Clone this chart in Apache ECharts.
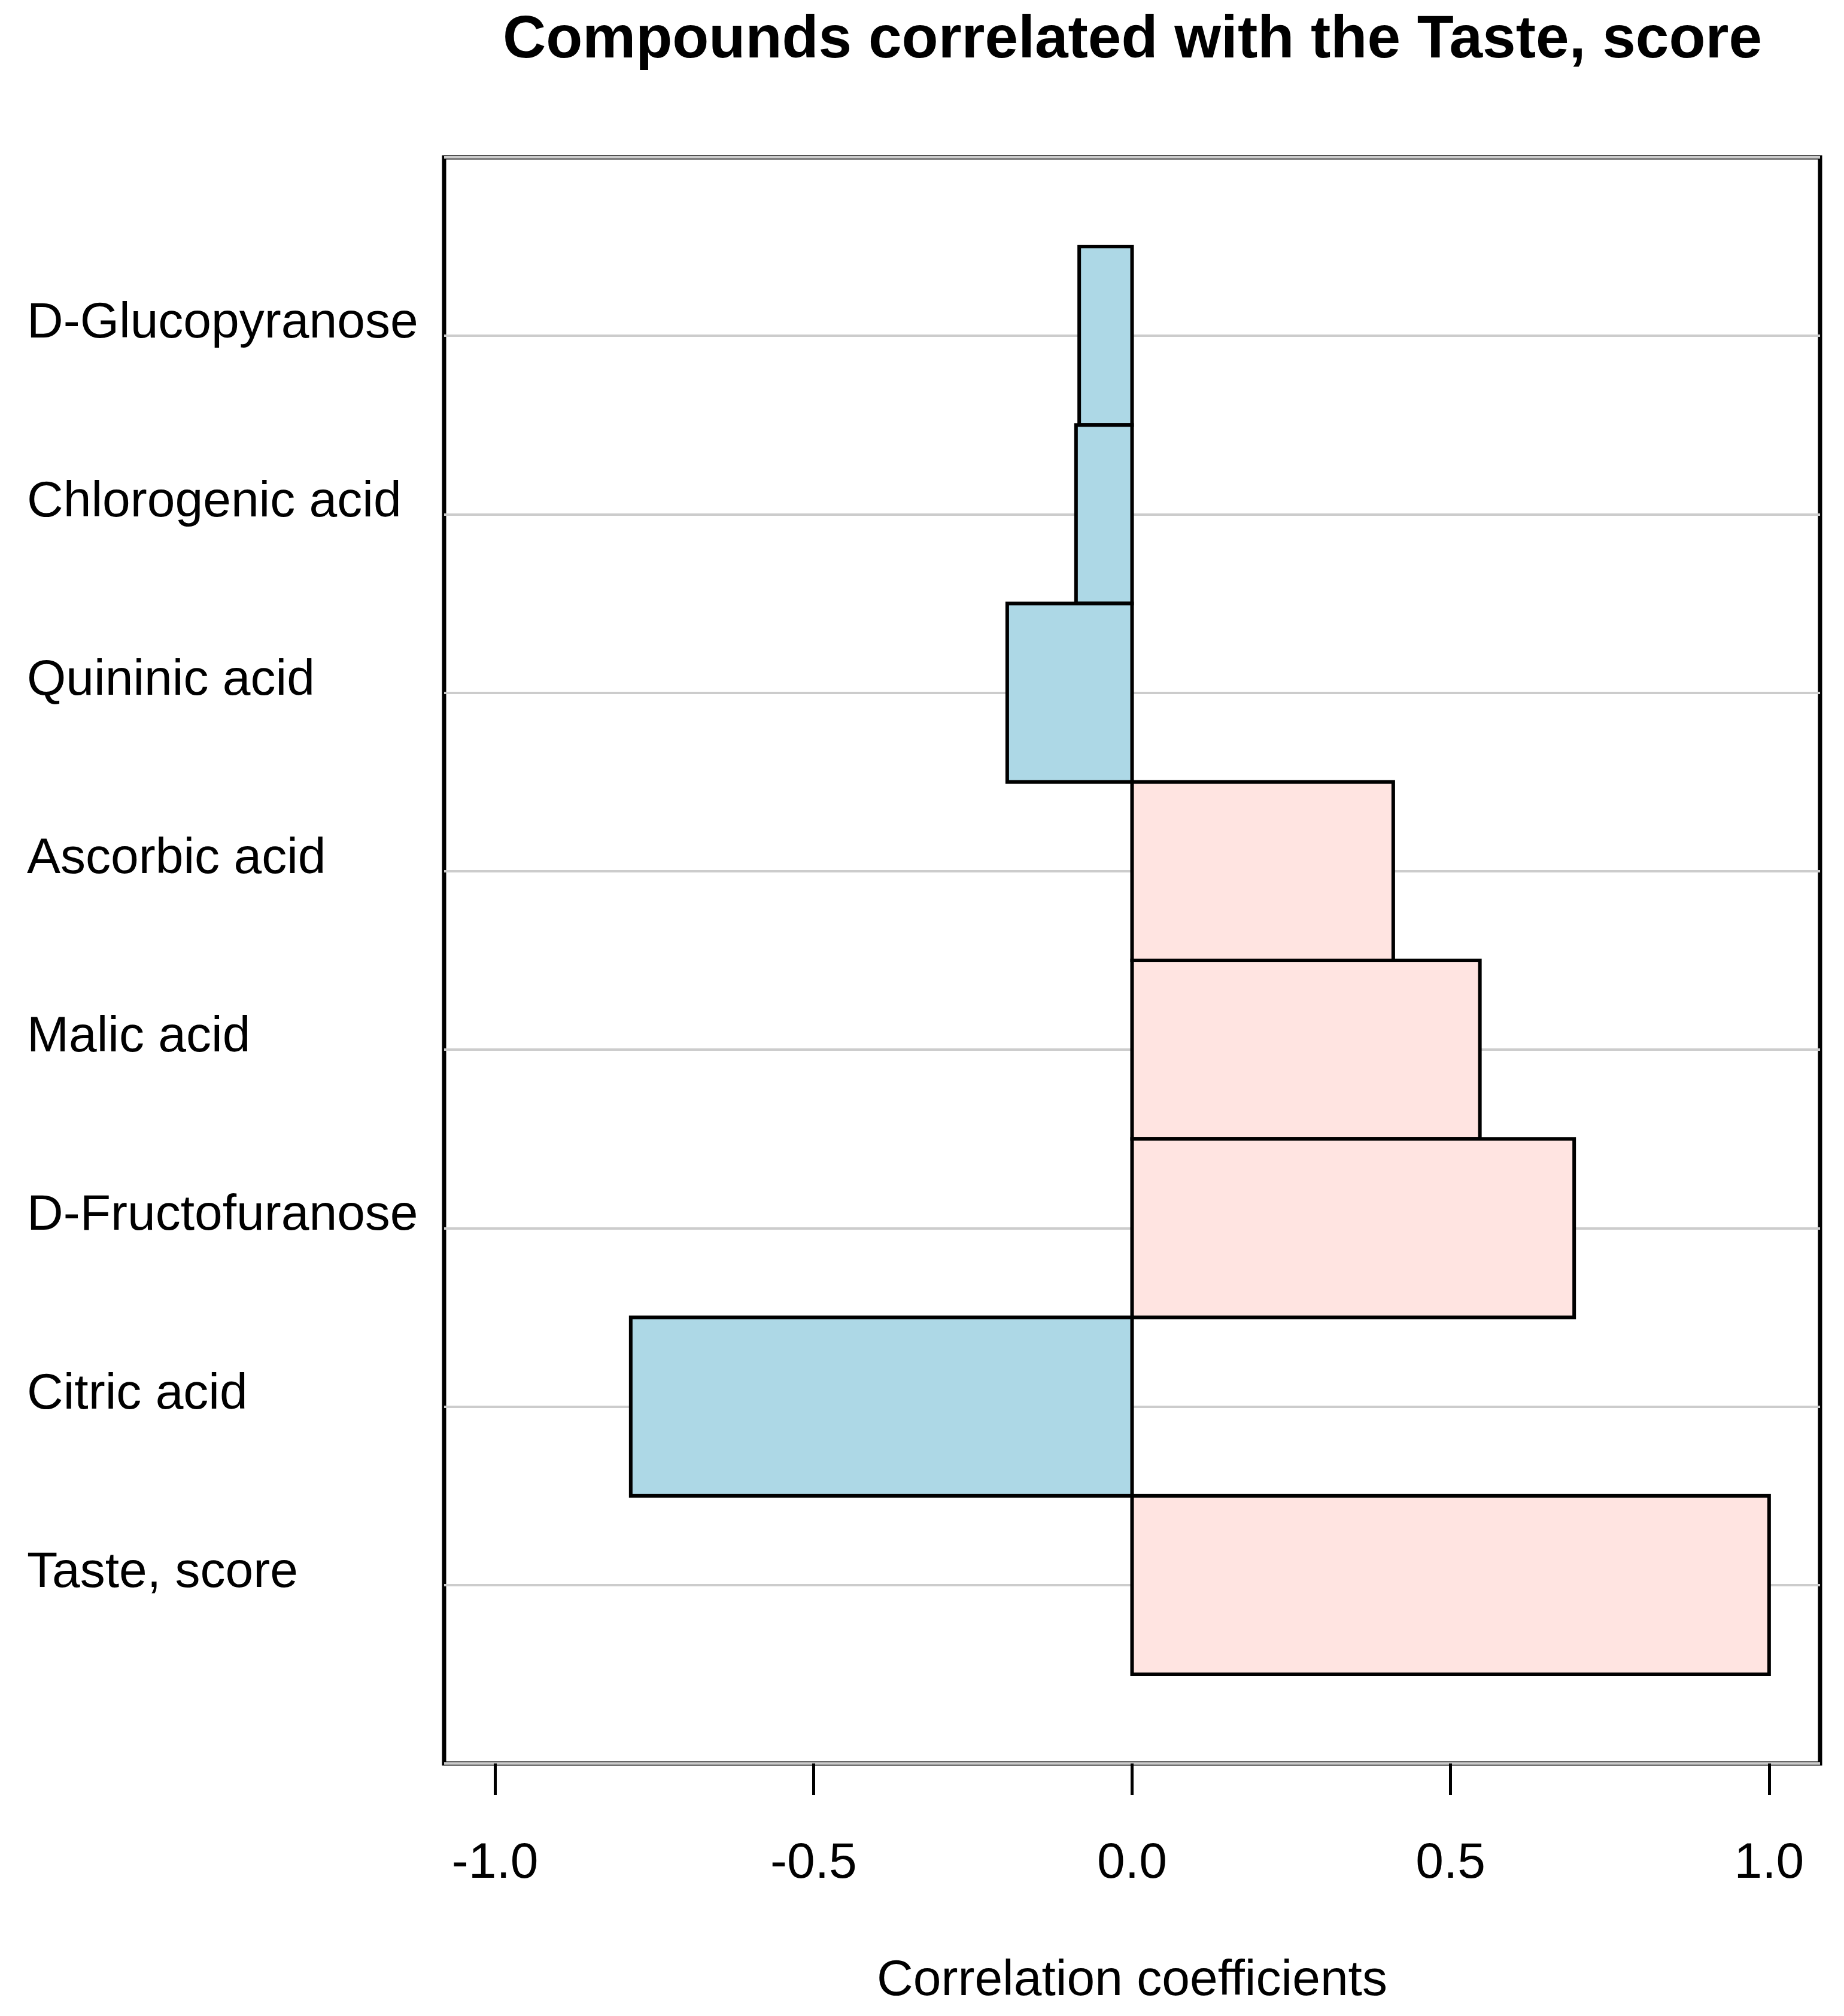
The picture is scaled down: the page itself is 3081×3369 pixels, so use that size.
<!DOCTYPE html>
<html>
<head>
<meta charset="utf-8">
<script src="https://cdn.jsdelivr.net/npm/echarts@6/dist/echarts.min.js"></script>
<style>
html,body{margin:0;padding:0;background:#fff;}
#chart{width:3081px;height:3369px;}
</style>
</head>
<body>
<div id="chart"></div>
<script>
// Data (top to bottom)
var categories = ["D-Glucopyranose", "Chlorogenic acid", "Quininic acid", "Ascorbic acid",
                  "Malic acid", "D-Fructofuranose", "Citric acid", "Taste, score"];
var correlations = [-0.083, -0.088, -0.196, 0.410, 0.546, 0.694, -0.787, 1.000];
var xTicks = [-1.0, -0.5, 0.0, 0.5, 1.0];
var xRange = [-1.08, 1.08];

var FONT = "'Liberation Sans', Arial, Helvetica, sans-serif";
var barData = correlations.map(function (v, i) { return [v, i + 1]; });

var chart = echarts.init(document.getElementById('chart'), null, {renderer: 'canvas'});
chart.setOption({
  backgroundColor: '#ffffff',
  animation: false,
  title: {
    text: 'Compounds correlated with the Taste, score',
    left: 1892,
    textAlign: 'center',
    top: 18,
    padding: 0,
    textStyle: {fontFamily: FONT, fontSize: 100, fontWeight: 'bold', color: '#000'}
  },
  grid: {
    left: 742, right: 40, top: 263, bottom: 422,
    show: true, borderColor: '#000', borderWidth: 7, backgroundColor: 'transparent'
  },
  xAxis: {
    type: 'value',
    min: xRange[0], max: xRange[1],
    axisLine: {show: false, onZero: false},
    splitLine: {show: false},
    axisTick: {show: true, inside: false, length: 53, customValues: xTicks,
               lineStyle: {color: '#000', width: 5}},
    axisLabel: {show: true, customValues: xTicks, margin: 126,
                fontFamily: FONT, fontSize: 84, color: '#000',
                formatter: function (v) { return Number(v).toFixed(1); }},
    name: 'Correlation coefficients',
    nameLocation: 'middle',
    nameGap: 322,
    nameTextStyle: {fontFamily: FONT, fontSize: 84, color: '#000'}
  },
  yAxis: {
    type: 'value',
    inverse: true,
    min: 0, max: categories.length + 1, interval: 1,
    axisLine: {show: false},
    axisTick: {show: false},
    splitLine: {show: true, lineStyle: {color: '#cccccc', width: 4}},
    axisLabel: {
      show: true, align: 'left', margin: 697,
      verticalAlign: 'bottom', lineHeight: 40,
      fontFamily: FONT, fontSize: 84, color: '#000',
      formatter: function (v) { return categories[v - 1] || ''; }
    }
  },
  series: [{
    type: 'custom',
    data: barData,
    encode: {x: 0, y: 1},
    renderItem: function (params, api) {
      var val = api.value(0), idx = api.value(1);
      var p0 = api.coord([0, idx]);
      var p1 = api.coord([val, idx]);
      var band = api.size([0, 1])[1];
      return {
        type: 'rect',
        shape: {x: Math.min(p0[0], p1[0]), y: p0[1] - band / 2,
                width: Math.abs(p1[0] - p0[0]), height: band},
        style: {fill: val < 0 ? '#ADD8E6' : '#FFE4E1', stroke: '#000', lineWidth: 6}
      };
    }
  }]
});
</script>
</body>
</html>
